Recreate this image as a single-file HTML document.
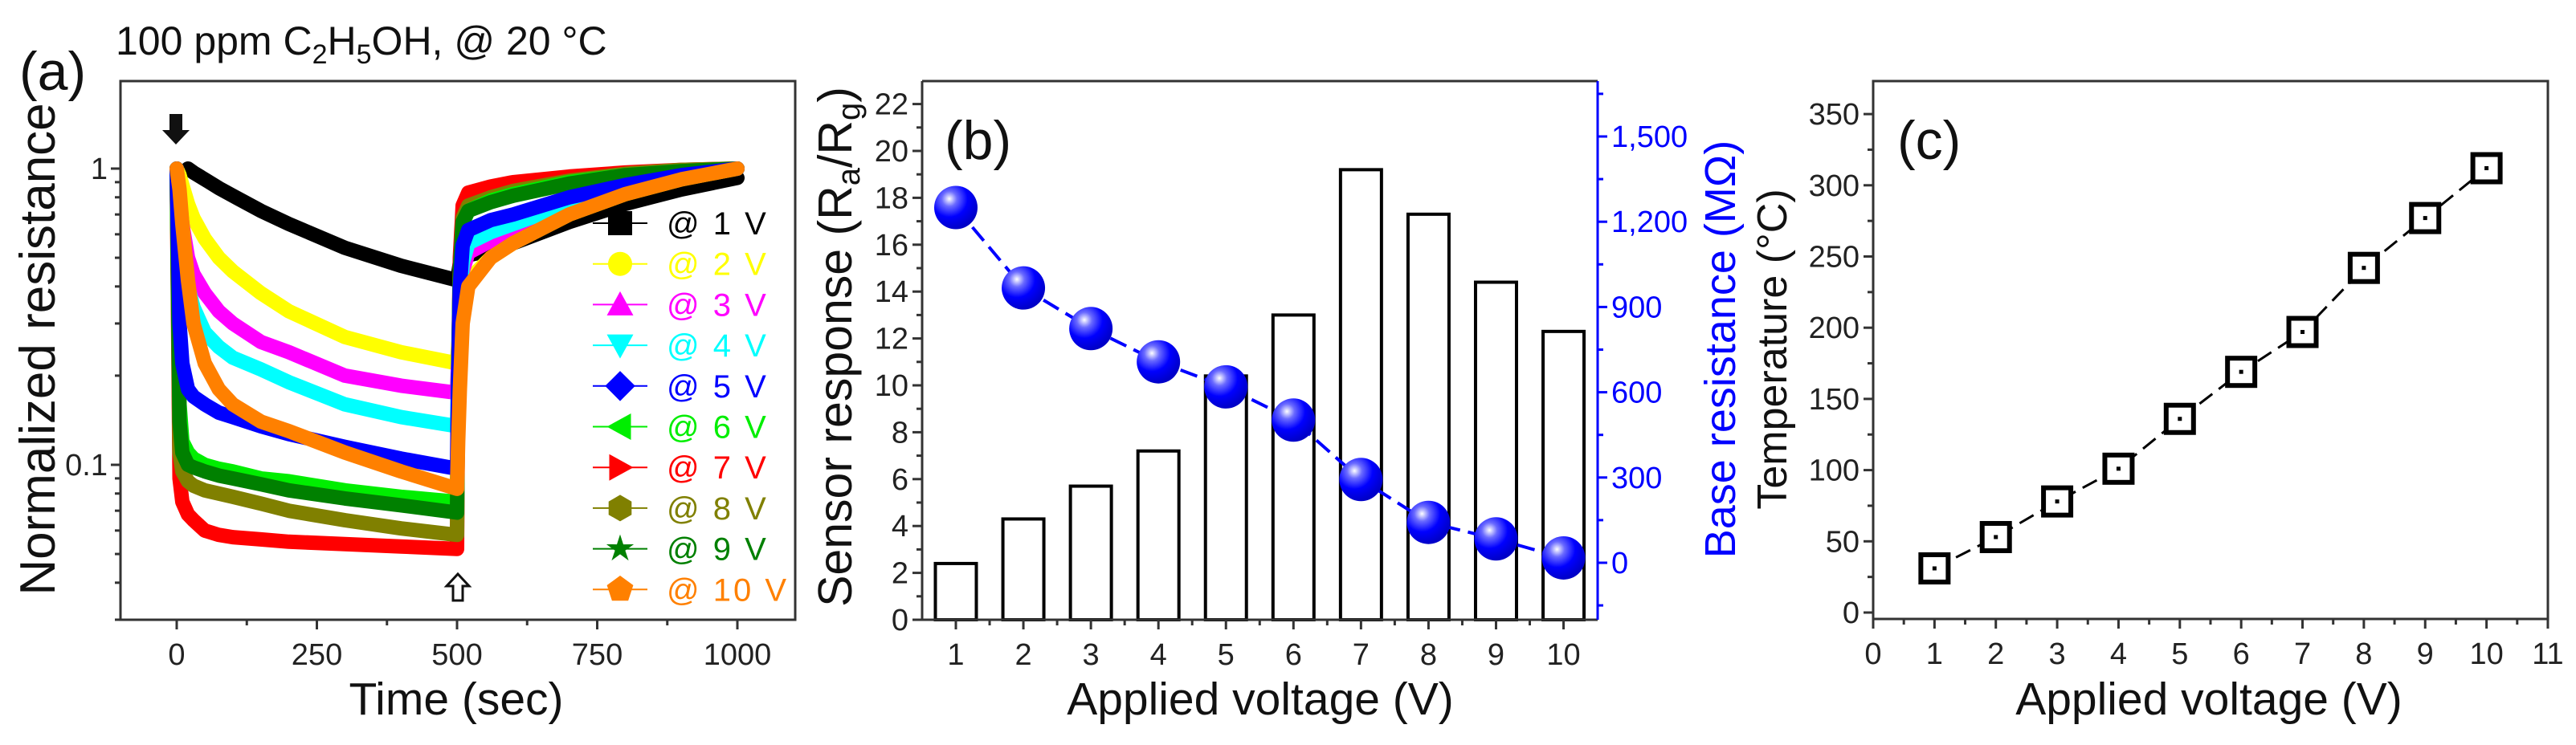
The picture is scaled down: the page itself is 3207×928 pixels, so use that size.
<!DOCTYPE html>
<html><head><meta charset="utf-8"><style>
html,body{margin:0;padding:0;background:#fff;}
svg{display:block;font-family:"Liberation Sans",Arial,sans-serif;}
</style></head><body>
<svg id="fig" width="3207" height="928" viewBox="0 0 3207 928" xmlns="http://www.w3.org/2000/svg">
<g id="pa"></g>
<g id="pb"></g>
<g id="pc"></g>
</svg>
<script>
// ---------- Panel (a) data ----------
const timeGrid = [0,5,10,20,30,50,75,100,150,200,300,400,500,502,505,510,520,560,600,700,800,900,1000];
const v1V  = [1,1,1,1,0.97,0.92,0.86,0.81,0.72,0.65,0.54,0.47,0.42,0.44,0.48,0.5,0.51,0.53,0.56,0.66,0.76,0.85,0.93];
const v2V  = [1,0.95,0.88,0.76,0.68,0.58,0.5,0.45,0.38,0.33,0.27,0.24,0.22,0.25,0.3,0.36,0.42,0.5,0.56,0.7,0.82,0.92,1.0];
const v3V  = [1,0.8,0.65,0.5,0.44,0.38,0.33,0.3,0.26,0.24,0.2,0.185,0.175,0.22,0.35,0.45,0.52,0.57,0.61,0.73,0.84,0.94,1.0];
const v4V  = [1,0.7,0.5,0.4,0.34,0.28,0.25,0.23,0.21,0.19,0.16,0.145,0.135,0.2,0.35,0.48,0.56,0.61,0.65,0.76,0.86,0.94,1.0];
const v5V  = [1,0.3,0.22,0.18,0.17,0.16,0.15,0.145,0.135,0.127,0.115,0.105,0.097,0.2,0.4,0.55,0.62,0.67,0.7,0.8,0.88,0.95,1.0];
const v6V  = [1,0.16,0.12,0.11,0.105,0.1,0.097,0.095,0.09,0.088,0.082,0.078,0.075,0.2,0.45,0.65,0.72,0.78,0.82,0.9,0.95,0.98,1.0];
const v7V  = [1,0.09,0.075,0.068,0.065,0.06,0.058,0.057,0.056,0.055,0.054,0.053,0.052,0.2,0.5,0.75,0.83,0.87,0.9,0.94,0.97,0.99,1.0];
const v8V  = [1,0.11,0.095,0.088,0.085,0.082,0.08,0.078,0.074,0.07,0.065,0.061,0.058,0.2,0.45,0.68,0.75,0.8,0.84,0.91,0.96,0.99,1.0];
const v9V  = [1,0.14,0.11,0.1,0.098,0.095,0.092,0.09,0.086,0.082,0.077,0.073,0.069,0.2,0.45,0.66,0.72,0.77,0.81,0.89,0.95,0.98,1.0];
const v10V = [1,0.85,0.65,0.42,0.3,0.22,0.18,0.16,0.14,0.13,0.11,0.095,0.083,0.12,0.18,0.3,0.4,0.5,0.56,0.7,0.82,0.92,1.0];
const seriesLabels = ["@ 1 V","@ 2 V","@ 3 V","@ 4 V","@ 5 V","@ 6 V","@ 7 V","@ 8 V","@ 9 V","@ 10 V"];
const seriesColors = ["#000000","#ffff00","#ff00ff","#00ffff","#0000ff","#00ee00","#ff0000","#808000","#008000","#ff8000"];
const seriesMarkers = ["square","circle","tri-up","tri-down","diamond","tri-left","tri-right","hexagon","star","pentagon"];
const aXTicks = [0,250,500,750,1000];
const aYTicks = [1,0.1];
const aYTickLabels = ["1","0.1"];

// ---------- Panel (b) data ----------
const bVoltages = [1,2,3,4,5,6,7,8,9,10];
const bResponse = [2.4,4.3,5.7,7.2,10.4,13.0,19.2,17.3,14.4,12.3];
const bBaseRes = [1250,967,824,707,619,502,293,142,84,17];
const bLeftTicks = [0,2,4,6,8,10,12,14,16,18,20,22];
const bRightTicks = [0,300,600,900,1200,1500];
const bRightTickLabels = ["0","300","600","900","1,200","1,500"];

// ---------- Panel (c) data ----------
const cVoltages = [1,2,3,4,5,6,7,8,9,10];
const cTemps = [31,53,78,101,136,169,197,242,277,312];
const cXTicks = [0,1,2,3,4,5,6,7,8,9,10,11];
const cYTicks = [0,50,100,150,200,250,300,350];

const NS = "http://www.w3.org/2000/svg";
function mk(parent, tag, attrs, text){
  const e = document.createElementNS(NS, tag);
  for (const k in attrs) e.setAttribute(k, attrs[k]);
  if (text !== undefined) e.textContent = text;
  parent.appendChild(e);
  return e;
}
const FS_TICK = 38, FS_LABEL = 57;

// ================= Panel A =================
const pa = document.getElementById('pa');
const aL=150,aR=990,aT=101,aB=772;
function ax(t){ return 220 + t*0.698; }
function ay(v){ return 210 - Math.log10(v)*369; }

const allSeries = [v1V,v2V,v3V,v4V,v5V,v6V,v7V,v8V,v9V,v10V];
const order = [0,1,2,3,6,7,5,8,4,9];
order.forEach(function(i){
  const vals = allSeries[i];
  let pts = [];
  for (let k=0;k<timeGrid.length;k++){
    if (i===0 && timeGrid[k]<15) continue;
    pts.push(ax(timeGrid[k]).toFixed(1)+","+ay(vals[k]).toFixed(1));
  }
  const pl = mk(pa,'polyline',{points:pts.join(' '),fill:'none',stroke:seriesColors[i],'stroke-width':18,'stroke-linejoin':'round','stroke-linecap':'round'});
  
  
});

const fa = mk(pa,'rect',{x:aL,y:aT,width:aR-aL,height:aB-aT,fill:'none',stroke:'#333','stroke-width':3});


aXTicks.forEach(function(t){
  mk(pa,'line',{x1:ax(t),x2:ax(t),y1:aB,y2:aB+12,stroke:'#333','stroke-width':3});
  const tl = mk(pa,'text',{x:ax(t),y:aB+56,'font-size':FS_TICK,'text-anchor':'middle',fill:'#222'},String(t));
  
  
});
for (let t=-125;t<=1100;t+=250){ if (ax(t)>aL) mk(pa,'line',{x1:ax(t),x2:ax(t),y1:aB,y2:aB+7,stroke:'#333','stroke-width':3}); }
aYTicks.forEach(function(v,i){
  mk(pa,'line',{x1:aL-12,x2:aL,y1:ay(v),y2:ay(v),stroke:'#333','stroke-width':3});
  const tl = mk(pa,'text',{x:aL-16,y:ay(v)+13,'font-size':FS_TICK,'text-anchor':'end',fill:'#222'},aYTickLabels[i]);
  
  
});
[0.01,0.1,1].forEach(function(d){
  for (let m=2;m<=9;m++){ const v=d*m; const y=ay(v); if (y>aT && y<aB) mk(pa,'line',{x1:aL-7,x2:aL,y1:y,y2:y,stroke:'#333','stroke-width':3}); }
});
let t;
t = mk(pa,'text',{x:568,y:890,'font-size':FS_LABEL,'text-anchor':'middle',fill:'#111'},'Time (sec)');
 
t = mk(pa,'text',{x:0,y:0,'font-size':62,'text-anchor':'middle',fill:'#111',transform:'translate(68,435) rotate(-90)'},'Normalized resistance');
 
t = mk(pa,'text',{x:24,y:112,'font-size':68,fill:'#111'},'(a)');
 
t = mk(pa,'text',{x:144,y:68,'font-size':50,fill:'#111'});
 
t.innerHTML = '100 ppm C<tspan font-size="34" dy="11">2</tspan><tspan dy="-11">H</tspan><tspan font-size="34" dy="11">5</tspan><tspan dy="-11">OH, @ 20 °C</tspan>';
t = mk(pa,'path',{d:'M211,142 h16 v20 h9 l-17,18 l-17,-18 h9 z',fill:'#111'});
 
t = mk(pa,'path',{d:'M564,748 h12 v-18 h8 l-14,-15 l-14,15 h8 z',fill:'#fff',stroke:'#111','stroke-width':3});
 

function marker(g, type, cx, cy, s, color){
  let e;
  const r = s/2;
  if (type==='square') e = mk(g,'rect',{x:cx-r,y:cy-r,width:s,height:s,fill:color});
  else if (type==='circle') e = mk(g,'circle',{cx:cx,cy:cy,r:r,fill:color});
  else {
    let pts=[];
    if (type==='tri-up') pts=[[0,-r*1.1],[r*1.1,r*0.9],[-r*1.1,r*0.9]];
    else if (type==='tri-down') pts=[[0,r*1.1],[r*1.1,-r*0.9],[-r*1.1,-r*0.9]];
    else if (type==='tri-left') pts=[[-r*1.1,0],[r*0.9,-r*1.1],[r*0.9,r*1.1]];
    else if (type==='tri-right') pts=[[r*1.1,0],[-r*0.9,-r*1.1],[-r*0.9,r*1.1]];
    else if (type==='diamond') pts=[[0,-r*1.25],[r*1.25,0],[0,r*1.25],[-r*1.25,0]];
    else if (type==='hexagon'){ for(let k=0;k<6;k++){const a=Math.PI/6+k*Math.PI/3; pts.push([r*1.1*Math.cos(a),r*1.1*Math.sin(a)]);} }
    else if (type==='pentagon'){ for(let k=0;k<5;k++){const a=-Math.PI/2+k*2*Math.PI/5; pts.push([r*1.15*Math.cos(a),r*1.15*Math.sin(a)]);} }
    else if (type==='star'){ for(let k=0;k<10;k++){const a=-Math.PI/2+k*Math.PI/5; const rr=(k%2?0.45:1.2)*r; pts.push([rr*Math.cos(a),rr*Math.sin(a)]);} }
    e = mk(g,'polygon',{points:pts.map(p=>(cx+p[0]).toFixed(1)+','+(cy+p[1]).toFixed(1)).join(' '),fill:color});
  }
  return e;
}
const leg = mk(pa,'g',{});
 
seriesLabels.forEach(function(lab,i){
  const y = 278 + i*50.7;
  const g = mk(leg,'g',{});
  
  
  mk(g,'line',{x1:738,x2:806,y1:y,y2:y,stroke:seriesColors[i],'stroke-width':2});
  marker(g, seriesMarkers[i], 772, y, 30, seriesColors[i]);
  mk(g,'text',{x:830,y:y+14,'font-size':40,fill:seriesColors[i],'letter-spacing':'3'},lab);
});

// ================= Panel B =================
const pb = document.getElementById('pb');
const bL=1148,bR=1989,bT=101,bB=772;
function bx(v){ return 1190 + (v-1)*84.06; }
function byL(v){ return 772 - v*29.2; }
function byR(v){ return 701 - v*0.354; }
bVoltages.forEach(function(v,i){
  const y = byL(bResponse[i]);
  const r = mk(pb,'rect',{x:bx(v)-25.5,y:y,width:51,height:bB-y,fill:'#fff',stroke:'#000','stroke-width':4});
  
  
});
const bpts = bVoltages.map((v,i)=>bx(v).toFixed(1)+','+byR(bBaseRes[i]).toFixed(1)).join(' ');
t = mk(pb,'polyline',{points:bpts,fill:'none',stroke:'#0000ff','stroke-width':4,'stroke-dasharray':'22,10'});
 
const defs = mk(pb,'defs',{});
const rg = mk(defs,'radialGradient',{id:'ball',cx:'0.35',cy:'0.3',r:'0.7'});
mk(rg,'stop',{offset:'0','stop-color':'#ffffff'});
mk(rg,'stop',{offset:'0.25','stop-color':'#6a6aff'});
mk(rg,'stop',{offset:'0.6','stop-color':'#0000ff'});
mk(rg,'stop',{offset:'1','stop-color':'#0000c8'});
bVoltages.forEach(function(v,i){
  const c = mk(pb,'circle',{cx:bx(v),cy:byR(bBaseRes[i]),r:27,fill:'url(#ball)'});
  
  
});
mk(pb,'line',{x1:bL,x2:bR,y1:bT,y2:bT,stroke:'#333','stroke-width':3});
mk(pb,'line',{x1:bL,x2:bR,y1:bB,y2:bB,stroke:'#333','stroke-width':3});
mk(pb,'line',{x1:bL,x2:bL,y1:bT,y2:bB,stroke:'#333','stroke-width':3});
mk(pb,'line',{x1:bR,x2:bR,y1:bT,y2:bB,stroke:'#0000ff','stroke-width':3});
bLeftTicks.forEach(function(v){
  mk(pb,'line',{x1:bL-12,x2:bL,y1:byL(v),y2:byL(v),stroke:'#333','stroke-width':3});
  const tl = mk(pb,'text',{x:bL-17,y:byL(v)+13,'font-size':FS_TICK,'text-anchor':'end',fill:'#222'},String(v));
   
});
for (let v=1; v<23; v+=2) mk(pb,'line',{x1:bL-7,x2:bL,y1:byL(v),y2:byL(v),stroke:'#333','stroke-width':3});
bVoltages.forEach(function(v){
  mk(pb,'line',{x1:bx(v),x2:bx(v),y1:bB,y2:bB+12,stroke:'#333','stroke-width':3});
  const tl = mk(pb,'text',{x:bx(v),y:bB+56,'font-size':FS_TICK,'text-anchor':'middle',fill:'#222'},String(v));
   
});
for (let v=1.5; v<10.5; v+=1) mk(pb,'line',{x1:bx(v),x2:bx(v),y1:bB,y2:bB+7,stroke:'#333','stroke-width':3});
bRightTicks.forEach(function(v,i){
  mk(pb,'line',{x1:bR,x2:bR+12,y1:byR(v),y2:byR(v),stroke:'#0000ff','stroke-width':3});
  const tl = mk(pb,'text',{x:bR+17,y:byR(v)+13,'font-size':FS_TICK,fill:'#0000ff'},bRightTickLabels[i]);
   
});
for (let v=-150; v<1700; v+=300) mk(pb,'line',{x1:bR,x2:bR+7,y1:byR(v),y2:byR(v),stroke:'#0000ff','stroke-width':3});
t = mk(pb,'text',{x:1569,y:890,'font-size':FS_LABEL,'text-anchor':'middle',fill:'#111'},'Applied voltage (V)');
 
t = mk(pb,'text',{x:0,y:0,'font-size':59,'text-anchor':'middle',fill:'#111',transform:'translate(1060,432) rotate(-90)'});
 
t.innerHTML = 'Sensor response (R<tspan font-size="40" dy="10">a</tspan><tspan dy="-10">/R</tspan><tspan font-size="40" dy="10">g</tspan><tspan dy="-10">)</tspan>';
t = mk(pb,'text',{x:0,y:0,'font-size':54,'text-anchor':'middle',fill:'#0000ff',transform:'translate(2160,435) rotate(-90)'},'Base resistance (MΩ)');
 
t = mk(pb,'text',{x:1176,y:198,'font-size':68,fill:'#111'},'(b)');
 

// ================= Panel C =================
const pc = document.getElementById('pc');
const cL=2332,cR=3172,cT=101,cB=771;
function cx(v){ return cL + v*76.36; }
function cy(v){ return 763 - v*1.774; }
const cpts = cVoltages.map((v,i)=>cx(v).toFixed(1)+','+cy(cTemps[i]).toFixed(1)).join(' ');
t = mk(pc,'polyline',{points:cpts,fill:'none',stroke:'#000','stroke-width':3,'stroke-dasharray':'20,10'});
 
cVoltages.forEach(function(v,i){
  const g = mk(pc,'g',{});
  
  
  mk(g,'rect',{x:cx(v)-17,y:cy(cTemps[i])-17,width:34,height:34,fill:'#fff',stroke:'#000','stroke-width':6});
  mk(g,'rect',{x:cx(v)-2.5,y:cy(cTemps[i])-2.5,width:5,height:5,fill:'#000'});
});
t = mk(pc,'rect',{x:cL,y:cT,width:cR-cL,height:cB-cT,fill:'none',stroke:'#333','stroke-width':3});
 
cXTicks.forEach(function(v){
  mk(pc,'line',{x1:cx(v),x2:cx(v),y1:cB,y2:cB+12,stroke:'#333','stroke-width':3});
  const tl = mk(pc,'text',{x:cx(v),y:cB+56,'font-size':FS_TICK,'text-anchor':'middle',fill:'#222'},String(v));
   
});
for (let v=0.5; v<11; v+=1) mk(pc,'line',{x1:cx(v),x2:cx(v),y1:cB,y2:cB+7,stroke:'#333','stroke-width':3});
cYTicks.forEach(function(v){
  mk(pc,'line',{x1:cL-12,x2:cL,y1:cy(v),y2:cy(v),stroke:'#333','stroke-width':3});
  const tl = mk(pc,'text',{x:cL-17,y:cy(v)+13,'font-size':FS_TICK,'text-anchor':'end',fill:'#222'},String(v));
   
});
for (let v=25; v<370; v+=50) mk(pc,'line',{x1:cL-7,x2:cL,y1:cy(v),y2:cy(v),stroke:'#333','stroke-width':3});
t = mk(pc,'text',{x:2750,y:890,'font-size':FS_LABEL,'text-anchor':'middle',fill:'#111'},'Applied voltage (V)');
 
t = mk(pc,'text',{x:0,y:0,'font-size':52,'text-anchor':'middle',fill:'#111',transform:'translate(2224,435) rotate(-90)'},'Temperature (°C)');
 
t = mk(pc,'text',{x:2362,y:198,'font-size':68,fill:'#111'},'(c)');
 
</script>
</body></html>
